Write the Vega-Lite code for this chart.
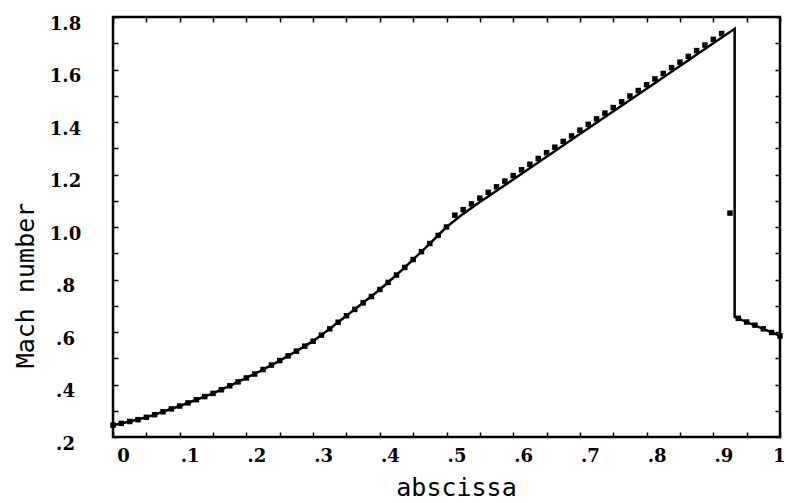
{
  "$schema": "https://vega.github.io/schema/vega-lite/v6.json",
  "width": 667,
  "height": 420,
  "autosize": {"type": "none"},
  "padding": {"left": 113, "top": 17, "right": 6, "bottom": 66},
  "background": "white",
  "config": {
    "view": {"stroke": "black", "strokeWidth": 2.5},
    "axis": {"domain": false, "grid": false}
  },
  "datasets": {
    "exact": [
      {"i": 0, "a": 0, "m": 0.245}, {"i": 1, "a": 0.025, "m": 0.259}, {"i": 2, "a": 0.05, "m": 0.275},
      {"i": 3, "a": 0.075, "m": 0.296}, {"i": 4, "a": 0.1, "m": 0.318}, {"i": 5, "a": 0.125, "m": 0.342},
      {"i": 6, "a": 0.15, "m": 0.366}, {"i": 7, "a": 0.175, "m": 0.395}, {"i": 8, "a": 0.2, "m": 0.425},
      {"i": 9, "a": 0.225, "m": 0.457}, {"i": 10, "a": 0.25, "m": 0.491}, {"i": 11, "a": 0.275, "m": 0.527},
      {"i": 12, "a": 0.3, "m": 0.565}, {"i": 13, "a": 0.325, "m": 0.612}, {"i": 14, "a": 0.35, "m": 0.662},
      {"i": 15, "a": 0.375, "m": 0.711}, {"i": 16, "a": 0.4, "m": 0.762}, {"i": 17, "a": 0.425, "m": 0.817},
      {"i": 18, "a": 0.45, "m": 0.876}, {"i": 19, "a": 0.475, "m": 0.937}, {"i": 20, "a": 0.5, "m": 1.0},
      {"i": 21, "a": 0.525, "m": 1.05}, {"i": 22, "a": 0.55, "m": 1.095}, {"i": 23, "a": 0.6, "m": 1.181},
      {"i": 24, "a": 0.7, "m": 1.354}, {"i": 25, "a": 0.8, "m": 1.527}, {"i": 26, "a": 0.9, "m": 1.70},
      {"i": 27, "a": 0.932, "m": 1.755}, {"i": 28, "a": 0.932, "m": 0.657}, {"i": 29, "a": 1.0, "m": 0.585}
    ],
    "numerical": [
      {"a": 0, "m": 0.245}, {"a": 0.0125, "m": 0.252}, {"a": 0.025, "m": 0.259}, {"a": 0.0375, "m": 0.266},
      {"a": 0.05, "m": 0.275}, {"a": 0.0625, "m": 0.285}, {"a": 0.075, "m": 0.296}, {"a": 0.0875, "m": 0.307},
      {"a": 0.1, "m": 0.318}, {"a": 0.1125, "m": 0.33}, {"a": 0.125, "m": 0.342}, {"a": 0.1375, "m": 0.354},
      {"a": 0.15, "m": 0.366}, {"a": 0.1625, "m": 0.38}, {"a": 0.175, "m": 0.395}, {"a": 0.1875, "m": 0.41},
      {"a": 0.2, "m": 0.425}, {"a": 0.2125, "m": 0.44}, {"a": 0.225, "m": 0.457}, {"a": 0.2375, "m": 0.474},
      {"a": 0.25, "m": 0.491}, {"a": 0.2625, "m": 0.509}, {"a": 0.275, "m": 0.527}, {"a": 0.2875, "m": 0.546},
      {"a": 0.3, "m": 0.565}, {"a": 0.3125, "m": 0.588}, {"a": 0.325, "m": 0.612}, {"a": 0.3375, "m": 0.637},
      {"a": 0.35, "m": 0.662}, {"a": 0.3625, "m": 0.686}, {"a": 0.375, "m": 0.711}, {"a": 0.3875, "m": 0.735},
      {"a": 0.4, "m": 0.762}, {"a": 0.4125, "m": 0.789}, {"a": 0.425, "m": 0.817}, {"a": 0.4375, "m": 0.846},
      {"a": 0.45, "m": 0.876}, {"a": 0.4625, "m": 0.906}, {"a": 0.475, "m": 0.937}, {"a": 0.4875, "m": 0.968},
      {"a": 0.5, "m": 1.0}, {"a": 0.5125, "m": 1.045}, {"a": 0.525, "m": 1.066}, {"a": 0.5375, "m": 1.088},
      {"a": 0.55, "m": 1.11}, {"a": 0.5625, "m": 1.132}, {"a": 0.575, "m": 1.153}, {"a": 0.5875, "m": 1.175},
      {"a": 0.6, "m": 1.196}, {"a": 0.6125, "m": 1.218}, {"a": 0.625, "m": 1.239}, {"a": 0.6375, "m": 1.261},
      {"a": 0.65, "m": 1.283}, {"a": 0.6625, "m": 1.304}, {"a": 0.675, "m": 1.326}, {"a": 0.6875, "m": 1.347},
      {"a": 0.7, "m": 1.369}, {"a": 0.7125, "m": 1.391}, {"a": 0.725, "m": 1.412}, {"a": 0.7375, "m": 1.434},
      {"a": 0.75, "m": 1.455}, {"a": 0.7625, "m": 1.477}, {"a": 0.775, "m": 1.499}, {"a": 0.7875, "m": 1.52},
      {"a": 0.8, "m": 1.542}, {"a": 0.8125, "m": 1.564}, {"a": 0.825, "m": 1.585}, {"a": 0.8375, "m": 1.607},
      {"a": 0.85, "m": 1.628}, {"a": 0.8625, "m": 1.65}, {"a": 0.875, "m": 1.672}, {"a": 0.8875, "m": 1.693},
      {"a": 0.9, "m": 1.715}, {"a": 0.9125, "m": 1.737}, {"a": 0.925, "m": 1.053}, {"a": 0.9375, "m": 0.652},
      {"a": 0.95, "m": 0.638}, {"a": 0.9625, "m": 0.626}, {"a": 0.975, "m": 0.612}, {"a": 0.9875, "m": 0.598},
      {"a": 1.0, "m": 0.585}
    ]
  },
  "resolve": {
    "scale": {"x": "shared", "y": "shared"},
    "axis": {"x": "independent", "y": "independent"}
  },
  "layer": [
    {
      "data": {"name": "exact"},
      "mark": {"type": "line", "color": "black", "strokeWidth": 2.5},
      "encoding": {
        "x": {
          "field": "a", "type": "quantitative",
          "scale": {"domain": [0, 1], "nice": false, "zero": false},
          "axis": {
            "orient": "bottom", "ticks": false,
            "values": [0, 0.1, 0.2, 0.3, 0.4, 0.5, 0.6, 0.7, 0.8, 0.9, 1],
            "labelExpr": "datum.value == 0 ? '0' : (datum.value >= 0.99 ? '1' : replace(format(datum.value, '.1f'), '0.', '.'))",
            "labelFont": "DejaVu Serif", "labelFontWeight": "bold", "labelFontSize": 18, "labelColor": "black",
            "labelAlign": {"condition": {"test": "datum.value >= 0.99", "value": "right"}, "value": "center"},
            "labelOffset": {"condition": {"test": "datum.value >= 0.99", "value": 5}, "value": 10},
            "labelBaseline": "middle", "labelPadding": 19,
            "labelFlush": false, "labelOverlap": false, "labelBound": false,
            "title": "abscissa", "titleFont": "DejaVu Sans Mono", "titleFontWeight": "normal", "titleFontSize": 25,
            "titleColor": "black", "titleX": 343, "titleY": 58, "titleBaseline": "alphabetic", "titleAlign": "center"
          }
        },
        "y": {
          "field": "m", "type": "quantitative",
          "scale": {"domain": [0.2, 1.8], "nice": false, "zero": false},
          "axis": {
            "orient": "left", "ticks": false,
            "values": [0.2, 0.4, 0.6, 0.8, 1.0, 1.2, 1.4, 1.6, 1.8],
            "labelExpr": "datum.value >= 0.99 ? format(datum.value, '.1f') : replace(format(datum.value, '.1f'), '0.', '.')",
            "labelFont": "DejaVu Serif", "labelFontWeight": "bold", "labelFontSize": 18, "labelColor": "black",
            "labelAlign": "center", "labelBaseline": "middle", "labelPadding": 48, "labelOffset": 7,
            "labelFlush": false, "labelOverlap": false,
            "title": "Mach number", "titleFont": "DejaVu Sans Mono", "titleFontWeight": "normal", "titleFontSize": 25,
            "titleColor": "black", "titleX": -80, "titleY": 268, "titleBaseline": "alphabetic", "titleAlign": "center", "titleAngle": -90
          }
        },
        "order": {"field": "i", "type": "quantitative"}
      }
    },
    {
      "data": {"name": "numerical"},
      "mark": {"type": "point", "shape": "square", "filled": true, "color": "black", "size": 30, "opacity": 1},
      "encoding": {
        "x": {
          "field": "a", "type": "quantitative",
          "axis": {
            "orient": "bottom", "labels": false, "title": null, "ticks": true, "tickSize": -5, "tickWidth": 1.5, "tickColor": "black",
            "values": [0, 0.05, 0.1, 0.15, 0.2, 0.25, 0.3, 0.35, 0.4, 0.45, 0.5, 0.55, 0.6, 0.65, 0.7, 0.75, 0.8, 0.85, 0.9, 0.95, 1]
          }
        },
        "y": {
          "field": "m", "type": "quantitative",
          "axis": {
            "orient": "left", "labels": false, "title": null, "ticks": true, "tickSize": -5, "tickWidth": 1.5, "tickColor": "black",
            "values": [0.2, 0.3, 0.4, 0.5, 0.6, 0.7, 0.8, 0.9, 1.0, 1.1, 1.2, 1.3, 1.4, 1.5, 1.6, 1.7, 1.8]
          }
        }
      }
    },
    {
      "data": {"name": "exact"},
      "mark": {"type": "line", "color": "black", "strokeWidth": 2.5, "opacity": 0},
      "encoding": {
        "x": {
          "field": "a", "type": "quantitative",
          "axis": {
            "orient": "top", "labels": false, "title": null, "ticks": true, "tickSize": -5, "tickWidth": 1.5, "tickColor": "black",
            "values": [0, 0.05, 0.1, 0.15, 0.2, 0.25, 0.3, 0.35, 0.4, 0.45, 0.5, 0.55, 0.6, 0.65, 0.7, 0.75, 0.8, 0.85, 0.9, 0.95, 1]
          }
        },
        "y": {
          "field": "m", "type": "quantitative",
          "axis": {
            "orient": "right", "labels": false, "title": null, "ticks": true, "tickSize": -5, "tickWidth": 1.5, "tickColor": "black",
            "values": [0.2, 0.3, 0.4, 0.5, 0.6, 0.7, 0.8, 0.9, 1.0, 1.1, 1.2, 1.3, 1.4, 1.5, 1.6, 1.7, 1.8]
          }
        },
        "order": {"field": "i", "type": "quantitative"}
      }
    }
  ]
}
